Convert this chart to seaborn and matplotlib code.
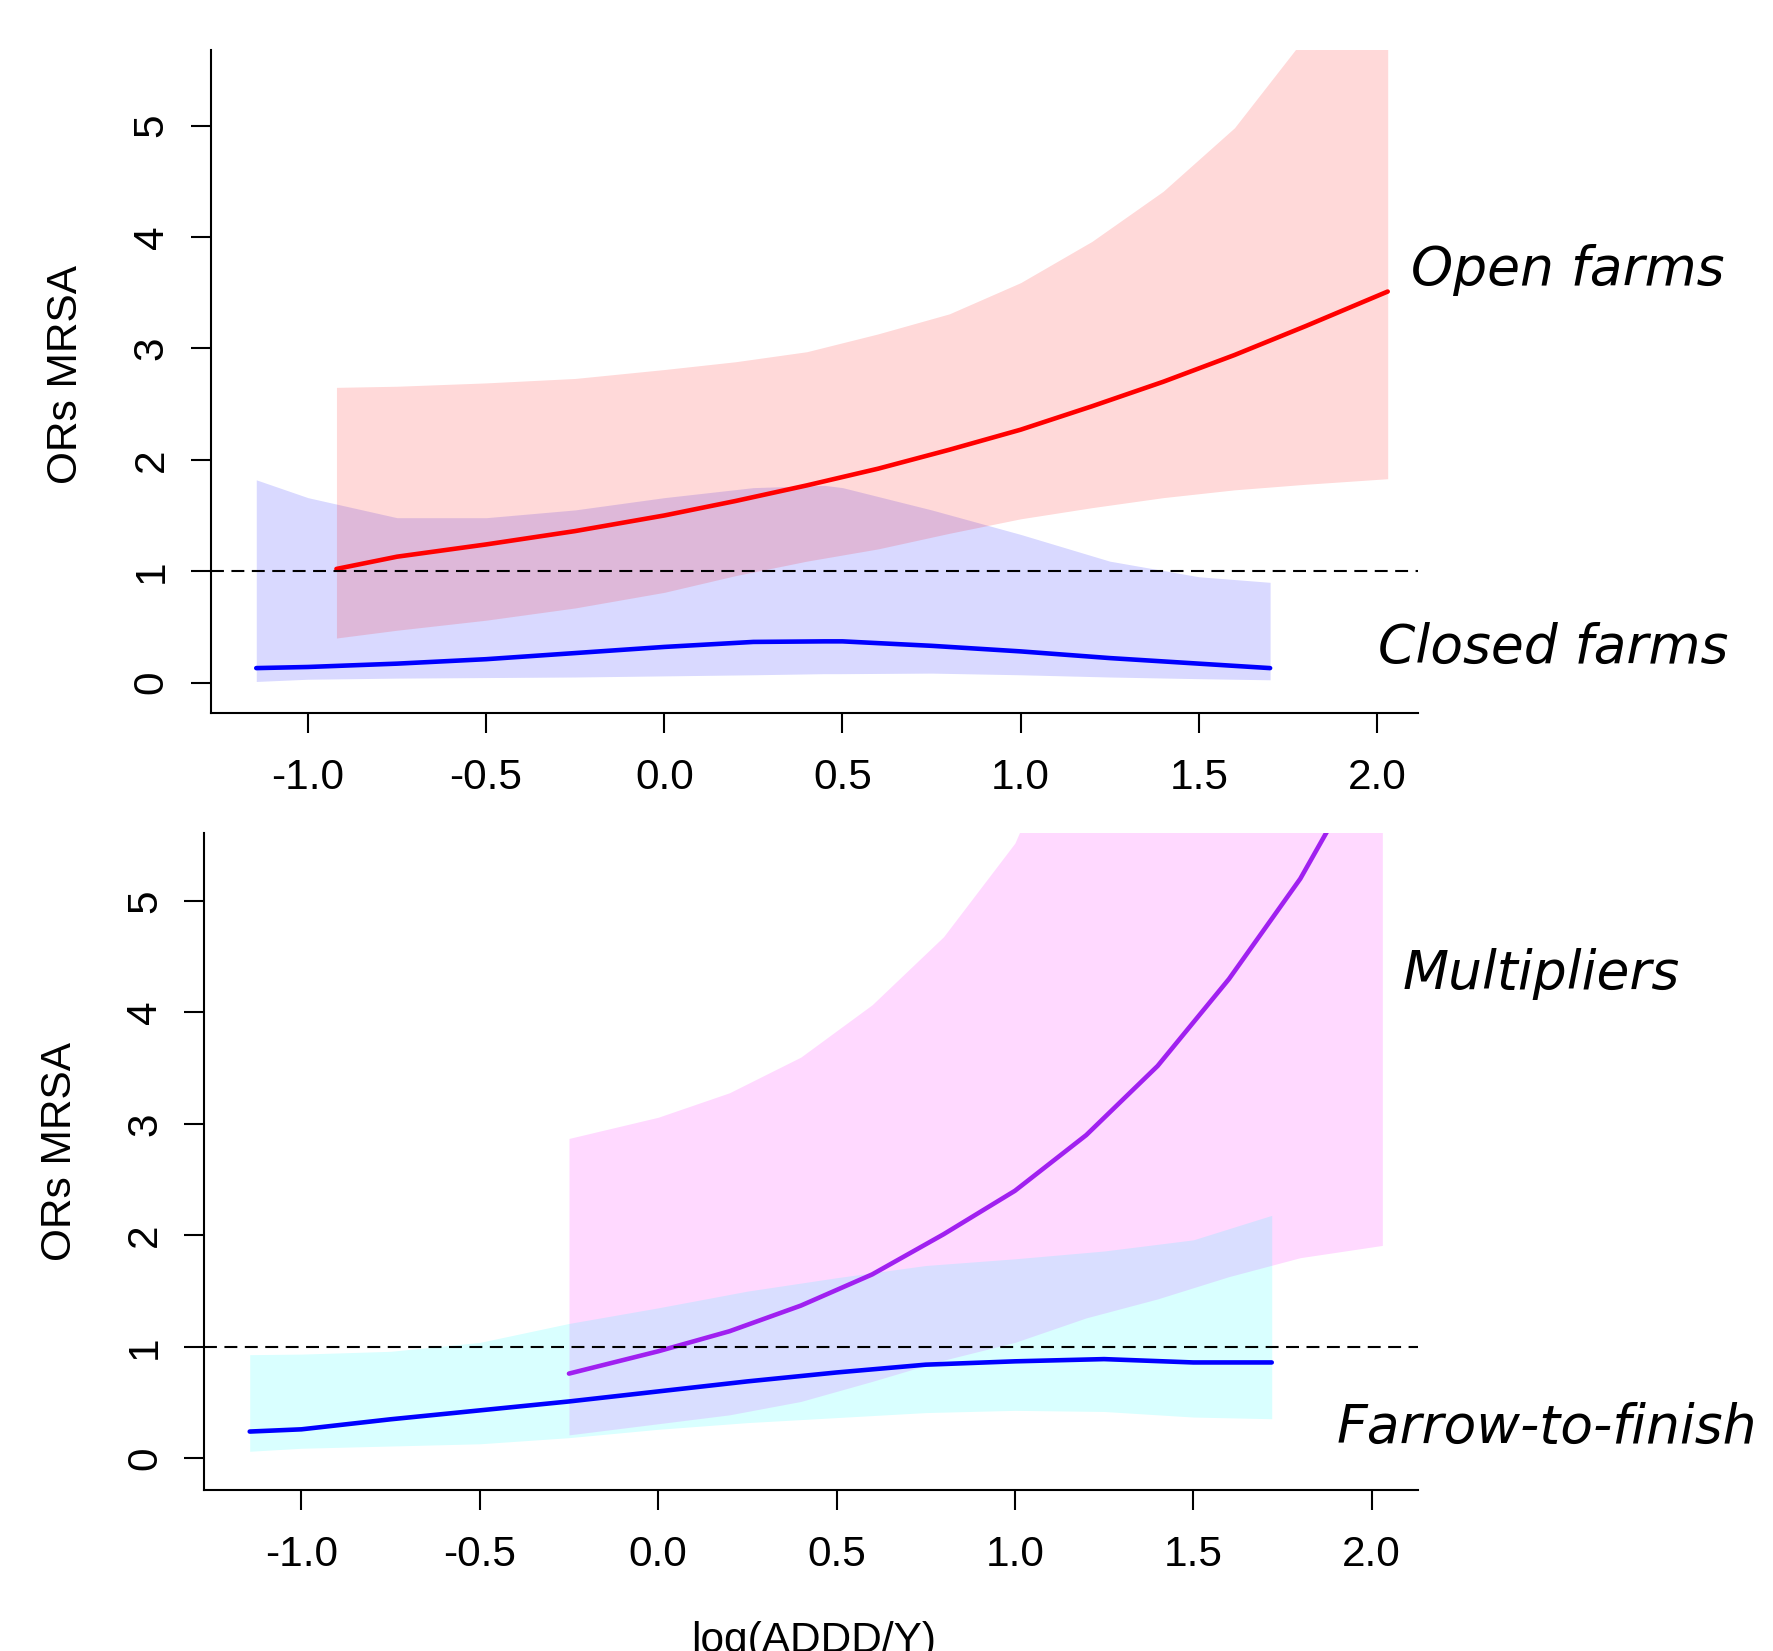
import matplotlib
matplotlib.use("Agg")
import matplotlib.pyplot as plt
import numpy as np
import pandas as pd
import seaborn as sns

sns.set_style("ticks")
plt.rcParams['font.family'] = ['Liberation Sans', 'DejaVu Sans']
plt.rcParams['axes.unicode_minus'] = False
plt.rcParams['text.color'] = 'black'
plt.rcParams['axes.labelcolor'] = 'black'
plt.rcParams['xtick.color'] = 'black'
plt.rcParams['ytick.color'] = 'black'

#%% data
# top panel: open farms (red)
open_x = [-0.92, -0.75, -0.5, -0.25, 0.0, 0.2, 0.4, 0.6, 0.8, 1.0, 1.2, 1.4, 1.6, 1.8, 2.03]
open_or = [1.02, 1.13, 1.24, 1.36, 1.50, 1.63, 1.77, 1.92, 2.09, 2.27, 2.48, 2.70, 2.94, 3.20, 3.51]
open_lo = [0.40, 0.47, 0.56, 0.67, 0.81, 0.96, 1.09, 1.20, 1.34, 1.47, 1.57, 1.66, 1.73, 1.78, 1.83]
open_hi = [2.65, 2.66, 2.69, 2.73, 2.81, 2.88, 2.97, 3.13, 3.31, 3.59, 3.96, 4.41, 4.98, 5.80, 7.00]

# top panel: closed farms (blue)
closed_x = [-1.145, -1.0, -0.75, -0.5, -0.25, 0.0, 0.25, 0.45, 0.5, 0.75, 1.0, 1.25, 1.5, 1.70]
closed_or = [0.13, 0.14, 0.17, 0.21, 0.265, 0.32, 0.365, 0.37, 0.37, 0.33, 0.28, 0.22, 0.17, 0.13]
closed_lo = [0.01, 0.03, 0.04, 0.045, 0.05, 0.06, 0.07, 0.08, 0.08, 0.085, 0.07, 0.05, 0.035, 0.025]
closed_hi = [1.82, 1.66, 1.48, 1.48, 1.55, 1.66, 1.75, 1.77, 1.75, 1.55, 1.33, 1.09, 0.95, 0.90]

# bottom panel: multipliers (purple line, magenta band)
mult_x = [-0.25, 0.0, 0.2, 0.4, 0.6, 0.8, 1.0, 1.2, 1.4, 1.6, 1.8, 2.03]
mult_or = [0.76, 0.96, 1.14, 1.37, 1.65, 2.01, 2.40, 2.90, 3.52, 4.30, 5.20, 6.50]
mult_lo = [0.21, 0.31, 0.39, 0.51, 0.69, 0.88, 1.04, 1.26, 1.43, 1.63, 1.80, 1.91]
mult_hi = [2.87, 3.06, 3.28, 3.60, 4.07, 4.68, 5.52, 7.00, 8.50, 10.0, 12.0, 14.0]

# bottom panel: farrow-to-finish (blue line, cyan band)
ftf_x = [-1.145, -1.0, -0.75, -0.5, -0.25, 0.0, 0.25, 0.5, 0.75, 1.0, 1.25, 1.5, 1.72]
ftf_or = [0.24, 0.26, 0.35, 0.43, 0.51, 0.60, 0.69, 0.77, 0.84, 0.87, 0.89, 0.86, 0.86]
ftf_lo = [0.063, 0.09, 0.11, 0.13, 0.185, 0.26, 0.32, 0.365, 0.41, 0.43, 0.42, 0.37, 0.355]
ftf_hi = [0.93, 0.935, 0.96, 1.04, 1.21, 1.35, 1.50, 1.62, 1.73, 1.79, 1.86, 1.96, 2.18]

x_ticks = [-1.0, -0.5, 0.0, 0.5, 1.0, 1.5, 2.0]
y_ticks = [0, 1, 2, 3, 4, 5]

#%% plot
W, H = 1773, 1651
fig = plt.figure(figsize=(W / 100, H / 100), dpi=100)
ax1 = fig.add_axes([211 / W, 1 - 713 / H, (1418 - 211) / W, (713 - 50) / H])
ax2 = fig.add_axes([204.4 / W, 1 - 1490.4 / H, (1418 - 204.4) / W, (1490.4 - 832.6) / H])


def band(ax, x, lo, hi, col):
    ax.fill_between(x, lo, hi, color=col, alpha=0.15, linewidth=0)


def curve(ax, x, y, col):
    df = pd.DataFrame({'x': x, 'y': y})
    sns.lineplot(data=df, x='x', y='y', color=col, lw=3.3, ax=ax, legend=False)


band(ax1, closed_x, closed_lo, closed_hi, 'blue')
band(ax1, open_x, open_lo, open_hi, 'red')
curve(ax1, open_x, open_or, 'red')
curve(ax1, closed_x, closed_or, 'blue')

band(ax2, mult_x, mult_lo, mult_hi, 'magenta')
band(ax2, ftf_x, ftf_lo, ftf_hi, 'cyan')
curve(ax2, mult_x, mult_or, '#A020F0')
curve(ax2, ftf_x, ftf_or, 'blue')

limits = [(ax1, (-1.272, 2.115), (-0.273, 5.678)),
          (ax2, (-1.272, 2.13), (-0.288, 5.614))]
for ax, xl, yl in limits:
    ax.axhline(1, color='black', lw=1.5, ls=(0, (6.2, 3.6)))
    ax.set(xlim=xl, ylim=yl, xlabel='', ylabel='')
    ax.set_xticks(x_ticks)
    ax.set_xticklabels(['%.1f' % v for v in x_ticks])
    ax.set_yticks(y_ticks)
    ax.set_yticklabels([str(v) for v in y_ticks], rotation=90, va='center')
    ax.tick_params(direction='out', length=14.4, width=1.5, labelsize=30.5, colors='black')
    ax.tick_params(axis='x', pad=18)
    ax.tick_params(axis='y', pad=14)
    sns.despine(ax=ax)
    for s in ['left', 'bottom']:
        ax.spines[s].set_linewidth(1.5)
        ax.spines[s].set_color('black')

fig.text(66 / W, 1 - 374 / H, 'ORs MRSA', rotation=90, ha='center', va='center', fontsize=30.5)
fig.text(60 / W, 1 - 1151 / H, 'ORs MRSA', rotation=90, ha='center', va='center', fontsize=30.5)
fig.text(814 / W, 1 - 1652 / H, 'log(ADDD/Y)', ha='center', va='baseline', fontsize=30.5)

labels = [('Open farms', 1411, 285), ('Closed farms', 1378, 663),
          ('Multipliers', 1403, 989), ('Farrow-to-finish', 1337, 1443)]
for txt, lx, ly in labels:
    fig.text(lx / W, 1 - ly / H, txt, ha='left', va='baseline', fontsize=38.5,
             fontstyle='italic', family=['DejaVu Sans'], color='black')

fig.savefig('out.png', dpi=100)
